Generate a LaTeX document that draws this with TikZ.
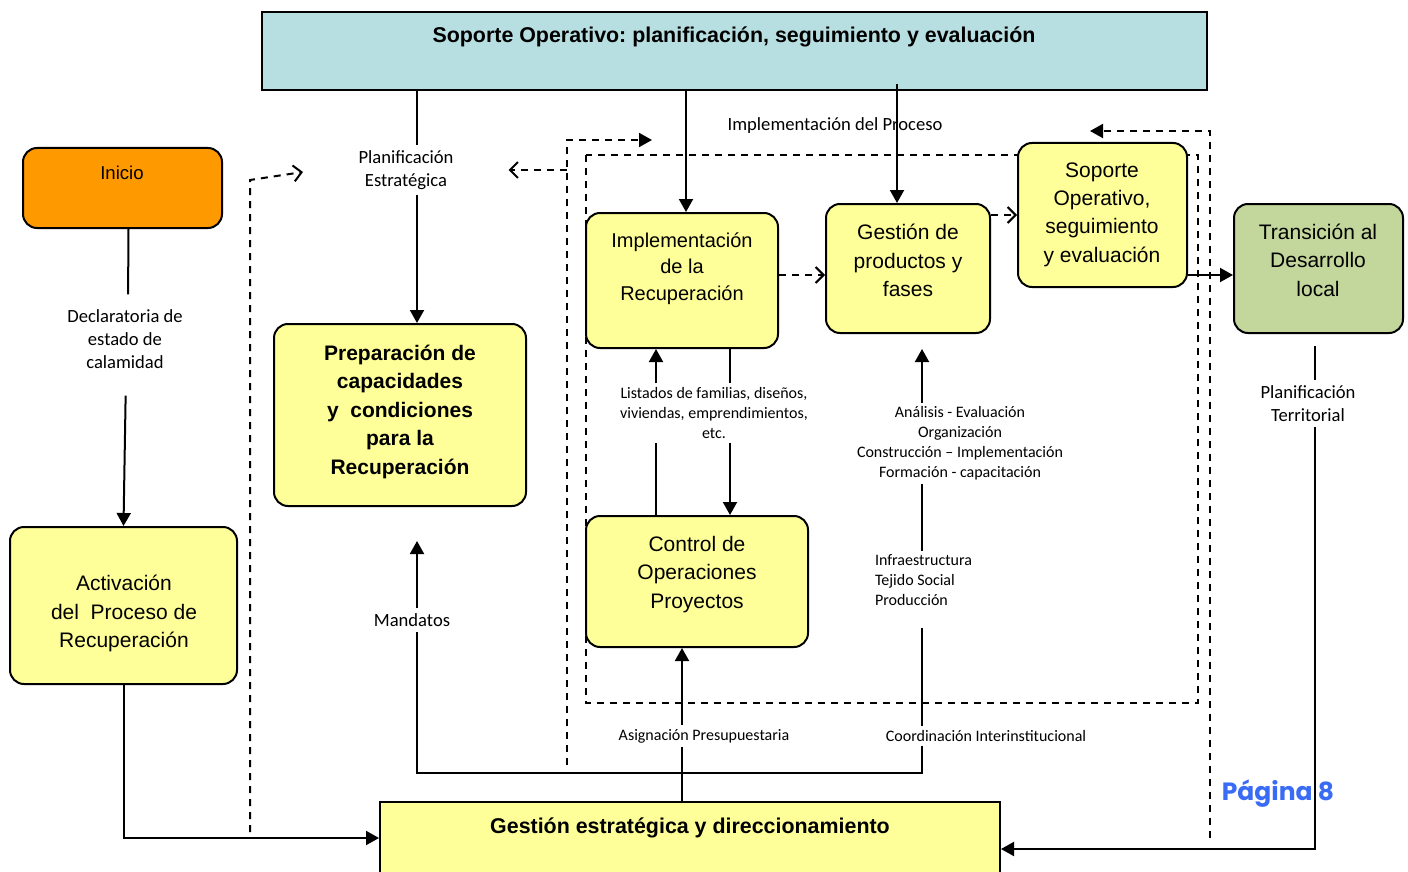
\documentclass[tikz,border=0pt]{standalone}
\usepackage{fontspec}
\setmainfont{Liberation Sans}
\newfontfamily\lblfont{Carlito}
\newfontfamily\pagefont{Poppins}
\usetikzlibrary{arrows.meta}
\frenchspacing

\definecolor{boxyellow}{HTML}{FFFF99}
\definecolor{topblue}{HTML}{B7DEE1}
\definecolor{startorange}{HTML}{FF9900}
\definecolor{transgreen}{HTML}{C3D69B}
\definecolor{pageblue}{HTML}{3A6BF5}

\tikzset{
	ybox/.style={draw, line width=1pt, rounded corners=7pt, fill=boxyellow},
	sqbox/.style={draw, line width=1pt},
	boxtext/.style={align=center, inner sep=0pt, font=\fontsize{10.5}{14.2}\selectfont},
	titletext/.style={inner sep=0pt, font=\bfseries\fontsize{10.7}{13}\selectfont},
	lbl/.style={align=center, inner sep=2pt, font=\lblfont\fontsize{9.3}{11.5}\selectfont},
	slbl/.style={align=center, inner sep=1.5pt, font=\lblfont\fontsize{8}{10}\selectfont},
	arr/.style={line width=1pt, -{Triangle[length=6.5pt,width=7pt]}},
	dashline/.style={line width=1pt, dash pattern=on 3.5pt off 3pt},
	dasharr/.style={dashline, -{Straight Barb[length=4pt,width=8pt]}},
}

\begin{document}
\begin{tikzpicture}[x=.5pt, y=-.5pt, line width=1pt]
	\useasboundingbox (0,0) rectangle (1408,872);

	% dashed frame round the implementation part
	\draw[dashline] (586,155) rectangle (1198,703);

	% boxes
	\node[sqbox, fill=topblue, minimum width=472.5pt, minimum height=39pt] (top) at (734.5,51) {};
	\node[titletext] (toptext) at (734,37) {Soporte Operativo: planificación, seguimiento y evaluación};

	\node[ybox, fill=startorange, minimum width=99.5pt, minimum height=40pt] (inicio) at (122.5,188) {};
	\node[boxtext, font=\fontsize{9.3}{11}\selectfont] (iniciotext) at (122,173) {Inicio};

	\node[ybox, minimum width=113.5pt, minimum height=78.5pt] (activ) at (123.5,605.5) {};
	\node[boxtext] (activtext) at (124,613.5) {Activación\\del\ \ Proceso de\\Recuperación};

	\node[ybox, minimum width=126pt, minimum height=91pt] (prep) at (400,415) {};
	\node[boxtext, font=\bfseries\fontsize{10.5}{14.25}\selectfont] (preptext) at (400,411.5) {Preparación de\\capacidades\\y\ \ condiciones\\para la\\Recuperación};

	\node[ybox, minimum width=96pt, minimum height=67.5pt] (impl) at (682,280.5) {};
	\node[boxtext, font=\fontsize{10}{13.25}\selectfont] (impltext) at (682,268.5) {Implementación\\de la\\Recuperación};

	\node[ybox, minimum width=82pt, minimum height=64.5pt] (prod) at (908,268.5) {};
	\node[boxtext] (prodtext) at (908,260.5) {Gestión de\\productos y\\fases};

	\node[ybox, minimum width=84.5pt, minimum height=72pt] (sop) at (1102.5,215) {};
	\node[boxtext] (soptext) at (1102,214.5) {Soporte\\Operativo,\\seguimiento\\y evaluación};

	\node[ybox, fill=transgreen, minimum width=84.5pt, minimum height=64.5pt] (trans) at (1318.5,268.5) {};
	\node[boxtext] (transtext) at (1318,260) {Transición al\\Desarrollo\\local};

	\node[ybox, minimum width=111pt, minimum height=65.5pt] (ctrl) at (697,581.5) {};
	\node[boxtext] (ctrltext) at (697,574.5) {Control de\\Operaciones\\Proyectos};

	\node[sqbox, fill=boxyellow, minimum width=310pt, minimum height=36pt] (gest) at (690,838) {};
	\node[titletext] (gesttext) at (690,828) {Gestión estratégica y direccionamiento};

	% labels
	\node[lbl] (decl) at (125,339) {Declaratoria de\\estado de\\calamidad};
	\node[lbl] (planest) at (406,170) {Planificación\\Estratégica};
	\node[lbl] (implproc) at (835,126) {Implementación del Proceso};
	\node[slbl] (listados) at (714,413) {Listados de familias, diseños,\\viviendas, emprendimientos,\\etc.};
	\node[slbl] (analisis) at (960,443.5) {Análisis - Evaluación\\Organización\\Construcción – Implementación\\Formación - capacitación};
	\node[slbl, align=left, anchor=west] (infra) at (871,580.5) {Infraestructura\\Tejido Social\\Producción};
	\node[lbl] (mandatos) at (412,620) {Mandatos};
	\node[slbl] (asign) at (704,736) {Asignación Presupuestaria};
	\node[slbl] (coord) at (986,736) {Coordinación Interinstitucional};
	\node[lbl] (planter) at (1308,403.5) {Planificación\\Territorial};
	\node[font=\pagefont\bfseries\fontsize{12.5}{15}\selectfont, text=pageblue, inner sep=0pt] (pagina) at (1278,794) {Página 8};

	% columns and free ends
	\coordinate (pcol) at (417,0);
	\coordinate (icol) at (686,0);
	\coordinate (gcol) at (897,0);
	\coordinate (lcol) at (656,0);
	\coordinate (rcol) at (730,0);
	\coordinate (ccol) at (922,0);
	\coordinate (tcol) at (1315,0);
	\coordinate (hub) at (682,773);
	\coordinate (dl1) at (250,832);
	\coordinate (dl2) at (250,180);
	\coordinate (dl3) at (303,172);
	\coordinate (dm1) at (567,765);
	\coordinate (dm2) at (567,140);
	\coordinate (dm3) at (652,140);
	\coordinate (dm4) at (567,170);
	\coordinate (dr1) at (1210,838);
	\coordinate (dr2) at (1210,131);
	\coordinate (dr3) at (1090,131);

	% left column
	\draw[shorten >=5pt] ([xshift=3pt]inicio.south) -- ([xshift=1.5pt]decl.north);
	\draw[arr, shorten <=11pt] ([xshift=.5pt]decl.south) -- (activ.north);
	\draw[arr] (activ.south) |- (gest.west);
	\draw[dasharr] (dl1) -- (dl2) -- (dl3);

	% planning
	\draw (top.south -| pcol) -- (planest.north -| pcol);
	\draw[arr] (planest.south -| pcol) -- (prep.north -| pcol);
	\draw[dashline, -{Triangle[length=6.5pt,width=7pt]}] (dm1) -- (dm2) -- (dm3);
	\draw[dasharr, shorten >=25pt] (dm4) -- (planest.east |- dm4);

	% implementation
	\draw[arr] (top.south -| icol) -- (impl.north -| icol);
	\draw[arr] ([yshift=3.5pt]top.south -| gcol) -- (prod.north -| gcol);
	\draw[dasharr] ([yshift=2.75pt]impl.east) -- ([yshift=2.75pt]impl.east -| prod.west);
	\draw[dasharr] (prod.east |- sop.west) -- (sop.west);
	\draw[arr] ([yshift=-30pt]sop.east) -- ([yshift=-30pt]sop.east -| trans.west);
	\draw[dashline, -{Triangle[length=6.5pt,width=7pt]}] (dr1) -- (dr2) -- (dr3);

	\draw (ctrl.north -| lcol) -- (listados.south -| lcol);
	\draw[arr] (listados.north -| lcol) -- (impl.south -| lcol);
	\draw (impl.south -| rcol) -- (listados.north -| rcol);
	\draw[arr] (listados.south -| rcol) -- (ctrl.north -| rcol);

	% from the strategic box
	\draw (gest.north -| hub) -- (hub);
	\draw (hub) -| (mandatos.south -| pcol);
	\draw[arr, shorten >=17pt] (mandatos.north -| pcol) -- (prep.south -| pcol);
	\draw (hub) -- (asign.south -| hub);
	\draw[arr] (asign.north -| hub) -- (ctrl.south -| hub);
	\draw (hub) -| (coord.south -| ccol);
	\draw[shorten >=9pt] (coord.north -| ccol) -- (infra.south -| ccol);
	\draw (infra.north -| ccol) -- (analisis.south -| ccol);
	\draw[arr, shorten >=7.5pt] (analisis.north -| ccol) -- (prod.south -| ccol);

	% territorial
	\draw[shorten <=6pt] (trans.south -| tcol) -- (planter.north -| tcol);
	\draw[arr] (planter.south -| tcol) |- ([yshift=-5.5pt]gest.east);
\end{tikzpicture}
\end{document}
